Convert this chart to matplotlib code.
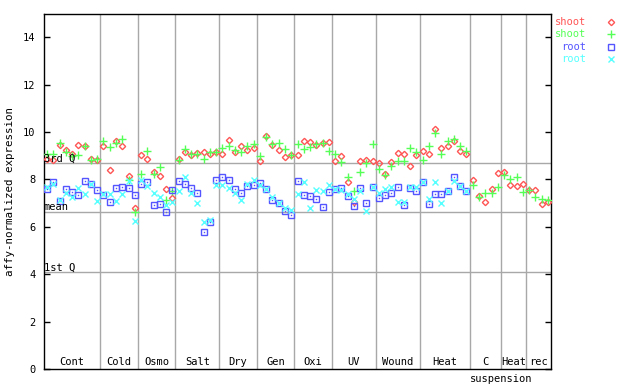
import matplotlib
matplotlib.use("Agg")
import matplotlib.pyplot as plt
from matplotlib.lines import Line2D
import numpy as np

groups = ["Cont", "Cold", "Osmo", "Salt", "Dry", "Gen", "Oxi", "UV", "Wound", "Heat", "C", "Heat", "rec"]
counts = [9, 6, 6, 7, 6, 6, 6, 7, 7, 8, 5, 4, 4]

shoot_a = [8.85, 8.82, 9.46, 9.24, 9.08, 9.45, 9.43, 8.85, 8.83,
           9.41, 8.39, 9.60, 9.43, 8.15, 6.78,
           9.03, 8.85, 8.30, 8.15, 7.59, 7.20,
           8.85, 9.15, 9.03, 9.10, 9.15, 9.06, 9.15,
           9.08, 9.67, 9.15, 9.41, 9.25, 9.31,
           8.78, 9.85, 9.46, 9.24, 8.93, 9.05,
           9.03, 9.62, 9.57, 9.46, 9.53, 9.57,
           8.79, 9.00, 7.88, 7.06, 8.77, 8.82, 8.77,
           8.68, 8.23, 8.75, 9.10, 9.06, 8.57, 9.05,
           9.21, 9.08, 10.13, 9.31, 9.41, 9.64, 9.21, 9.08,
           7.98, 7.30, 7.05, 7.60, 8.26,
           8.30, 7.75, 7.72, 7.81,
           7.56, 7.56, 6.95, 7.05]
shoot_b = [9.08, 9.08, 9.53, 9.17, 9.00, 9.03, 9.41, 8.82, 8.88,
           9.61, 9.37, 9.53, 9.70, 7.98, 6.64,
           8.23, 9.21, 8.23, 8.51, 7.13, 7.50,
           8.82, 9.27, 9.08, 9.08, 8.85, 9.17, 9.15,
           9.31, 9.41, 9.24, 9.15, 9.41, 9.50,
           9.00, 9.78, 9.50, 9.53, 9.29, 9.03,
           9.50, 9.27, 9.36, 9.50, 9.53, 9.20,
           9.06, 8.73, 8.09, 7.51, 8.33, 8.68, 9.50,
           8.43, 8.20, 8.57, 8.78, 8.78, 9.31, 9.15,
           8.82, 9.41, 9.95, 9.08, 9.60, 9.70, 9.41, 9.21,
           7.75, 7.25, 7.41, 7.41, 7.67,
           8.19, 8.01, 8.12, 7.47,
           7.56, 7.25, 7.16, 7.13]
root_a = [7.59, 7.88, 7.10, 7.59, 7.46, 7.34, 7.92, 7.80, 7.56,
          7.36, 7.05, 7.63, 7.67, 7.63, 7.33,
          7.80, 7.88, 6.91, 6.96, 6.61, 7.56,
          7.94, 7.80, 7.63, 7.41, 5.77, 6.19, 7.96,
          8.09, 7.96, 7.59, 7.41, 7.74, 7.77,
          7.84, 7.59, 7.13, 6.99, 6.68, 6.49,
          7.94, 7.34, 7.30, 7.18, 6.82, 7.47,
          7.59, 7.63, 7.30, 6.88, 7.63, 6.99, 7.66,
          7.20, 7.34, 7.41, 7.67, 6.92, 7.63, 7.51,
          7.87, 6.96, 7.37, 7.37, 7.53, 8.09, 7.72, 7.53]
root_b = [7.67, 7.81, 7.13, 7.44, 7.27, 7.63, 7.37, 7.81, 7.08,
          7.39, 7.37, 7.09, 7.39, 7.94, 6.25,
          7.98, 7.74, 7.44, 7.25, 6.92, 7.04,
          7.51, 8.09, 7.44, 7.02, 6.19, 6.29, 7.77,
          7.77, 7.63, 7.41, 7.13, 7.80, 7.98,
          7.77, 7.60, 7.27, 7.00, 6.78, 6.71,
          7.39, 7.88, 6.78, 7.56, 7.49, 7.75,
          7.60, 7.55, 7.40, 7.16, 7.49, 6.67, 7.66,
          7.44, 7.59, 7.67, 7.06, 7.06, 7.70, 7.70,
          7.90, 7.16, 7.91, 6.99, 7.49, 7.94, 7.72, 7.53]

q1, mean, q3 = 4.08, 6.63, 8.68

RED, GREEN, BLUE, CYAN = "#ff5555", "#55ff55", "#5555ff", "#55ffff"
mono = "DejaVu Sans Mono"

fig = plt.figure(figsize=(6.4, 3.84), dpi=100)
ax = fig.add_axes([44/640, 15/384, 507/640, 355.5/384])

n = len(shoot_a)
x = np.arange(n)
xr = np.arange(len(root_a))

edges = np.cumsum(counts)[:-1] - 0.5
for e in edges:
    ax.axvline(e, color="#a8a8a8", lw=1, zorder=1)
for v in (q1, mean, q3):
    ax.axhline(v, color="#a8a8a8", lw=1, zorder=1)

ax.plot(x, shoot_a, ls="none", marker="D", ms=3.2, mfc="none", mec=RED, mew=1, zorder=3)
ax.plot(x, shoot_b, ls="none", marker="+", ms=5.5, mec=GREEN, mew=1, zorder=3)
ax.plot(xr, root_a, ls="none", marker="s", ms=4.2, mfc="none", mec=BLUE, mew=1, zorder=3)
ax.plot(xr, root_a, ls="none", marker="s", ms=1, mfc=BLUE, mec=BLUE, mew=0, zorder=3)
ax.plot(xr, root_b, ls="none", marker="x", ms=4.2, mec=CYAN, mew=1, zorder=3)

ax.set_xlim(-0.5, n - 0.5)
ax.set_ylim(0, 15)
ax.set_xticks([])
ax.set_yticks(range(0, 15, 2))
ax.tick_params(axis="y", direction="in", length=4, width=1, labelsize=7.5,
               right=True, pad=6)
for lab in ax.get_yticklabels():
    lab.set_family(mono)
for s in ax.spines.values():
    s.set_linewidth(1)

ax.text(0.0, q3, "3rd Q", family=mono, fontsize=7.5, va="bottom", ha="left",
        transform=ax.get_yaxis_transform())
ax.text(0.0, mean, "mean", family=mono, fontsize=7.5, va="bottom", ha="left",
        transform=ax.get_yaxis_transform())
ax.text(0.0, q1, "1st Q", family=mono, fontsize=7.5, va="bottom", ha="left",
        transform=ax.get_yaxis_transform())

starts = np.concatenate([[0], np.cumsum(counts)[:-1]])
for name, s, c in zip(groups, starts, counts):
    cx = s + (c - 1) / 2
    ax.text(cx, 0.1, name, family=mono, fontsize=7.5, ha="center", va="bottom")
ax.text(starts[10] + 4.6, -0.2, "suspension", family=mono, fontsize=7.5,
        ha="center", va="top", clip_on=False)

ax.set_ylabel("affy-normalized expression", family=mono, fontsize=7.8, labelpad=6)

legend = [("shoot", RED, "D", 3.2), ("shoot", GREEN, "+", 5.5),
          ("root", BLUE, "s", 4.2), ("root", CYAN, "x", 4.2)]
for k, (lab, col, mk, ms) in enumerate(legend):
    yy = 1 - (22 + 12.3 * k) / 384
    fig.text(586/640, yy, lab, color=col, family=mono, fontsize=7.5,
             ha="right", va="center")
    fc = "none" if mk in ("D", "s") else col
    fig.add_artist(Line2D([611/640], [yy], transform=fig.transFigure, ls="none",
                          marker=mk, ms=ms, mfc=fc, mec=col, mew=1))

fig.savefig("out.png", dpi=100)
